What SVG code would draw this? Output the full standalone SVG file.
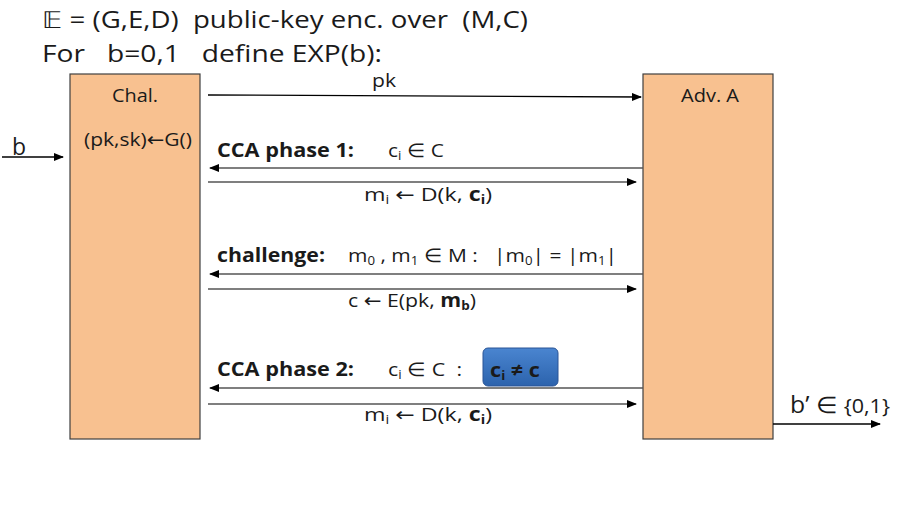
<svg xmlns="http://www.w3.org/2000/svg" width="906" height="506" viewBox="0 0 906 506">
<style>
text{font-family:"Open Sans","Liberation Sans",sans-serif;fill:#1a1a1a}
.t{font-size:23px}
.n{font-size:19px}
.b{font-weight:bold;font-size:19.5px}
.ar{font-family:"DejaVu Sans",sans-serif}
.box{fill:#f8c190;stroke:#404040;stroke-width:1.2}
.ln{stroke:#000;stroke-width:1.3;fill:none}
.lg{stroke:#555;stroke-width:1.3;fill:none}
</style>
<defs>
<marker id="ah" markerWidth="10" markerHeight="8" refX="9" refY="4" orient="auto" markerUnits="userSpaceOnUse">
<path d="M0,0 L10,4 L0,8 z" fill="#000"/>
</marker>
<linearGradient id="bl" x1="0" y1="0" x2="0" y2="1">
<stop offset="0" stop-color="#4a85d0"/>
<stop offset="1" stop-color="#2c63ad"/>
</linearGradient>
</defs>
<text class="t" x="42" y="28" xml:space="preserve" textLength="486" lengthAdjust="spacingAndGlyphs">𝔼 = (G,E,D)  public-key enc. over  (M,C)</text>
<text class="t" x="42" y="62" xml:space="preserve" textLength="340" lengthAdjust="spacingAndGlyphs">For   b=0,1   define EXP(b):</text>
<g id="chal">
<rect class="box" x="70" y="74" width="130" height="365"/>
<text class="n" x="112" y="102" textLength="46" lengthAdjust="spacingAndGlyphs">Chal.</text>
<text class="n" x="84" y="146" textLength="108" lengthAdjust="spacingAndGlyphs">(pk,sk)<tspan class="ar">←</tspan>G()</text>
</g>
<g id="adv">
<rect class="box" x="643" y="74" width="130" height="365"/>
<text class="n" x="681" y="102" textLength="58" lengthAdjust="spacingAndGlyphs">Adv. A</text>
</g>
<g id="cond">
<rect x="483" y="348" width="75" height="38" rx="5" fill="url(#bl)" stroke="#2a5596" stroke-width="1"/>
<text class="b" x="490" y="377" fill="#000" textLength="50" lengthAdjust="spacingAndGlyphs">c<tspan font-size="12" dy="3">i</tspan><tspan dy="-3"> ≠ c</tspan></text>
</g>
<g id="connectors">
<path class="ln" d="M208,95 L641,97" marker-end="url(#ah)"/>
<path class="lg" d="M643,168 L210,168" marker-end="url(#ah)"/>
<path class="lg" d="M208,182 L636,182" marker-end="url(#ah)"/>
<path class="lg" d="M643,274 L210,274" marker-end="url(#ah)"/>
<path class="lg" d="M208,289 L636,289" marker-end="url(#ah)"/>
<path class="lg" d="M643,388 L210,388" marker-end="url(#ah)"/>
<path class="lg" d="M208,404 L636,404" marker-end="url(#ah)"/>
<path class="ln" d="M2,157 L63,157" marker-end="url(#ah)"/>
<path class="ln" d="M773,424 L880,424" marker-end="url(#ah)"/>
</g>
<g id="labels">
<text class="n" x="372" y="87" textLength="24" lengthAdjust="spacingAndGlyphs">pk</text>
<text class="t" x="12" y="155" font-size="25">b</text>
<text class="b" x="217" y="157" textLength="137" lengthAdjust="spacingAndGlyphs">CCA phase 1:</text>
<text class="n" x="388" y="157" textLength="56" lengthAdjust="spacingAndGlyphs">c<tspan font-size="12" dy="3">i</tspan><tspan dy="-3"> ∈ C</tspan></text>
<text class="n" x="364" y="201" textLength="128" lengthAdjust="spacingAndGlyphs">m<tspan font-size="12" dy="3">i</tspan><tspan dy="-3"> </tspan><tspan class="ar">←</tspan> D(k, <tspan font-weight="bold">c</tspan><tspan font-weight="bold" font-size="12" dy="3">i</tspan><tspan dy="-3">)</tspan></text>
<text class="b" x="217" y="262" textLength="108" lengthAdjust="spacingAndGlyphs">challenge:</text>
<text class="n" x="348" y="262" xml:space="preserve" textLength="269" lengthAdjust="spacingAndGlyphs">m<tspan font-size="12" dy="3">0</tspan><tspan dy="-3"> , m</tspan><tspan font-size="12" dy="3">1</tspan><tspan dy="-3"> ∈ M :   |m</tspan><tspan font-size="12" dy="3">0</tspan><tspan dy="-3">| = |m</tspan><tspan font-size="12" dy="3">1</tspan><tspan dy="-3">|</tspan></text>
<text class="n" x="348" y="307" textLength="128" lengthAdjust="spacingAndGlyphs">c <tspan class="ar">←</tspan> E(pk, <tspan font-weight="bold">m</tspan><tspan font-weight="bold" font-size="12" dy="3">b</tspan><tspan dy="-3">)</tspan></text>
<text class="b" x="217" y="376" textLength="137" lengthAdjust="spacingAndGlyphs">CCA phase 2:</text>
<text class="n" x="388" y="376" xml:space="preserve" textLength="74" lengthAdjust="spacingAndGlyphs">c<tspan font-size="12" dy="3">i</tspan><tspan dy="-3"> ∈ C  :</tspan></text>
<text class="n" x="364" y="421" textLength="128" lengthAdjust="spacingAndGlyphs">m<tspan font-size="12" dy="3">i</tspan><tspan dy="-3"> </tspan><tspan class="ar">←</tspan> D(k, <tspan font-weight="bold">c</tspan><tspan font-weight="bold" font-size="12" dy="3">i</tspan><tspan dy="-3">)</tspan></text>
<text class="t" x="790" y="413" textLength="100" lengthAdjust="spacingAndGlyphs">b’ ∈ <tspan font-size="20">{0,1}</tspan></text>
</g>
</svg>
